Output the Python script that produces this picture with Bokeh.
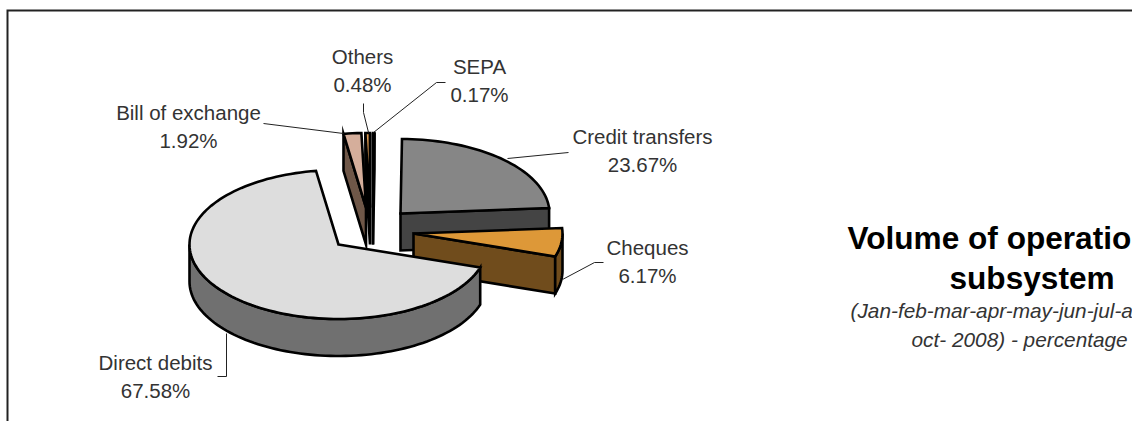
import math
from bokeh.plotting import figure
from bokeh.models import Range1d
from bokeh.core.properties import value
from bokeh.embed import file_html
from bokeh.resources import INLINE

# --- data
categories = ["Direct debits", "Bill of exchange", "Others", "SEPA", "Credit transfers", "Cheques"]
shares = [67.58, 1.92, 0.48, 0.17, 23.67, 6.17]
share_labels = ["67.58%", "1.92%", "0.48%", "0.17%", "23.67%", "6.17%"]
top_colors = ["#DDDDDD", "#D5AE9B", "#DB9A52", "#111111", "#868686", "#DD9838"]
side_colors = ["#707070", "#6F5748", "#5A3D18", "#000000", "#444444", "#704C1C"]

# --- layout of the exploded 3-D pie, in page pixels
START_ANGLE = 108.0
RX, RY, DEPTH = 149.0, 74.5, 37.0
apex = {"Direct debits": (338, 244), "Bill of exchange": (365.5, 207), "Others": (369.5, 207),
        "SEPA": (372.5, 207), "Credit transfers": (400, 213), "Cheques": (413, 233)}
draw_order = ["Bill of exchange", "Others", "SEPA", "Credit transfers", "Cheques", "Direct debits"]

p = figure(width=1132, height=421, output_backend="svg", toolbar_location=None,
           x_range=Range1d(0, 1132), y_range=Range1d(421, 0), min_border=0,
           margin=(0, 0, 0, 0), outline_line_color=None, background_fill_color="white")
p.axis.visible = False
p.grid.visible = False
p.xaxis.visible = False
p.yaxis.visible = False

spans = {}
a = START_ANGLE
total = sum(shares)
for n, v in zip(categories, shares):
    sweep = v / total * 360.0
    start = a % 360.0
    spans[n] = (start, start + sweep)
    a += sweep


def pt(c, t, dz=0.0):
    r = math.radians(t)
    return c[0] + RX * math.sin(r), c[1] - RY * math.cos(r) + dz


def arc(c, s, e, dz=0.0):
    k = max(2, int(abs(e - s) / 2) + 2)
    return [pt(c, s + (e - s) * i / (k - 1), dz) for i in range(k)]


def poly(points, fill):
    p.patch([q[0] for q in points], [q[1] for q in points], fill_color=fill, line_color="black",
            line_width=2.6, line_join="miter")


def wall(c, t, fill):
    a1 = (c[0], c[1])
    b1 = pt(c, t)
    poly([a1, b1, (b1[0], b1[1] + DEPTH), (a1[0], a1[1] + DEPTH)], fill)


for name in draw_order:
    i = categories.index(name)
    s, e = spans[name]
    c = apex[name]
    if math.cos(math.radians(s - 90)) < -1e-6:
        wall(c, s, side_colors[i])
    if math.cos(math.radians(e + 90)) < -1e-6:
        wall(c, e, side_colors[i])
    lo, hi = max(s, 90.0), min(e, 270.0)
    if lo < hi:
        poly(arc(c, lo, hi) + arc(c, hi, lo, DEPTH), side_colors[i])
    poly([(c[0], c[1])] + arc(c, s, e), top_colors[i])

# --- leader lines
leaders = [
    ([263, 343], [123, 133]),
    ([363, 363, 368], [103, 112, 132]),
    ([445, 436, 373], [82, 82, 132]),
    ([568, 507], [152, 158]),
    ([603, 594, 562], [262, 262, 279]),
    ([226, 226, 217], [333, 376, 376]),
]
for xs, ys in leaders:
    p.line(xs, ys, line_color="#222222", line_width=1)

# --- labels
label_pos = {"Direct debits": (155, 361.5), "Bill of exchange": (188, 111.5), "Others": (362, 55.5),
             "SEPA": (479, 65.5), "Credit transfers": (642, 135.5), "Cheques": (647, 246.5)}
LINE = 28.5
for n, lab in zip(categories, share_labels):
    x, y = label_pos[n]
    p.text([x, x], [y, y + LINE], text=[n, lab], text_font=value("Liberation Sans"), text_font_size="20.5px",
           text_color="#333333", text_align="center", text_baseline="alphabetic")

# --- title block (cut by the right edge, as in the picture)
p.text([847], [237], text=["Volume of operatio"], text_font=value("Liberation Sans"), text_font_size="31.6px",
       text_font_style="bold", text_color="#000000", text_align="left", text_baseline="alphabetic")
p.text([949], [277.5], text=["subsystem"], text_font=value("Liberation Sans"), text_font_size="31.6px",
       text_font_style="bold", text_color="#000000", text_align="left", text_baseline="alphabetic")
p.text([850], [310], text=["(Jan-feb-mar-apr-may-jun-jul-a"], text_font=value("Liberation Sans"),
       text_font_size="20.8px", text_font_style="italic", text_color="#333333", text_align="left",
       text_baseline="alphabetic")
p.text([911], [339], text=["oct- 2008) - percentage"], text_font=value("Liberation Sans"),
       text_font_size="20.8px", text_font_style="italic", text_color="#333333", text_align="left",
       text_baseline="alphabetic")

# --- chart frame, cropped by the picture
p.line([7, 7, 1132], [421, 10, 10], line_color="#222222", line_width=2, line_join="miter")

open("out.html", "w").write(file_html(p, INLINE))
